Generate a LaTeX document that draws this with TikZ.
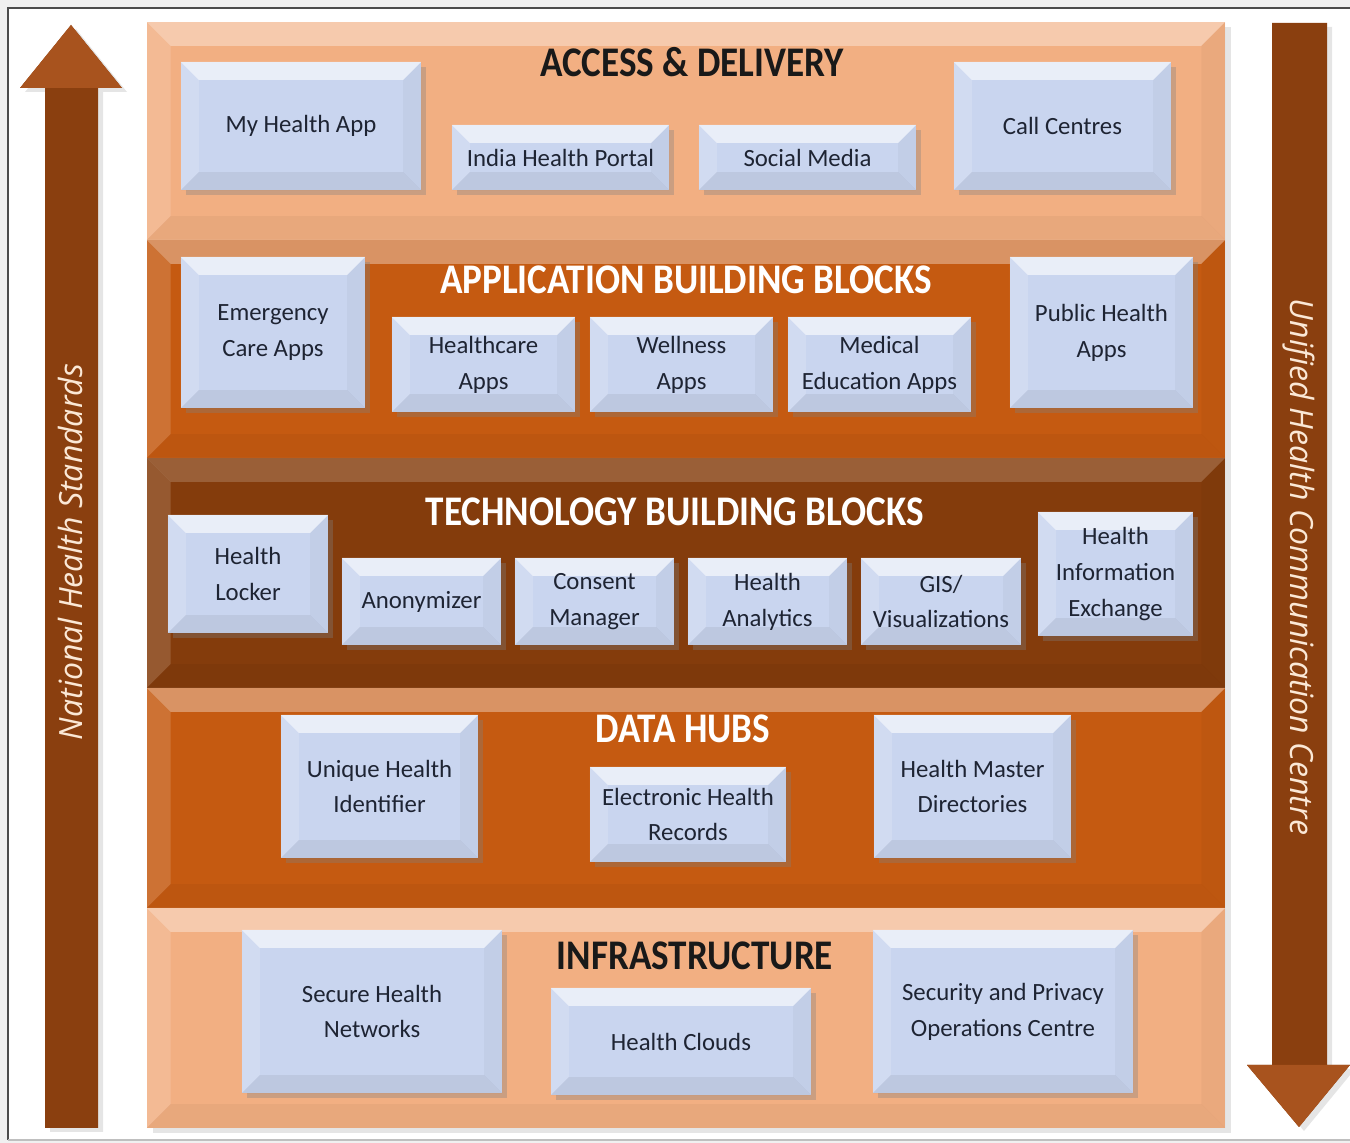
\documentclass[tikz,border=0pt]{standalone}
\usepackage{fontspec}
\setmainfont{Carlito}
\newfontfamily\titlefont{Carlito}[FakeStretch=0.88]
\newfontfamily\sidefont{Open Sans}
\usetikzlibrary{positioning,shadows}

\definecolor{peach}{HTML}{F2AF82}
\definecolor{rust}{HTML}{C55A11}
\definecolor{umber}{HTML}{843C0C}
\definecolor{boxblue}{HTML}{C9D5EF}
\definecolor{shaftbrown}{HTML}{8A3F0F}
\definecolor{headbrown}{HTML}{A8531E}
\definecolor{inkdark}{HTML}{1E2433}
\definecolor{sidetext}{HTML}{FBE8D6}

% bevel: width, top light, bottom dark
\newcommand{\bevelpaths}[3]{%
  \path (path picture bounding box.north west) coordinate (bNW)
        (path picture bounding box.north east) coordinate (bNE)
        (path picture bounding box.south west) coordinate (bSW)
        (path picture bounding box.south east) coordinate (bSE);
  \fill[white,opacity=#2] (bNW) -- (bNE) -- ([shift={(-#1,-#1)}]bNE) -- ([shift={(#1,-#1)}]bNW) -- cycle;
  \fill[white,opacity=.15] (bNW) -- ([shift={(#1,-#1)}]bNW) -- ([shift={(#1,#1)}]bSW) -- (bSW) -- cycle;
  \fill[black,opacity=.03] (bNE) -- ([shift={(-#1,-#1)}]bNE) -- ([shift={(-#1,#1)}]bSE) -- (bSE) -- cycle;
  \fill[black,opacity=#3] (bSW) -- ([shift={(#1,#1)}]bSW) -- ([shift={(-#1,#1)}]bSE) -- (bSE) -- cycle;
}

\tikzset{
  band/.style={inner sep=0, outer sep=0, minimum width=10.78cm,
    drop shadow={shadow xshift=.6mm, shadow yshift=-.5mm, opacity=.2},
    path picture={\bevelpaths{2.4mm}{.35}{.04}}},
  blk/.style={fill=boxblue, inner sep=0, outer sep=0, align=center, text=inkdark,
    font=\fontsize{7.05}{10.2}\selectfont,
    drop shadow={shadow xshift=.5mm, shadow yshift=-.5mm, opacity=.35},
    path picture={\bevelpaths{1.8mm}{.6}{.06}}},
  sz/.style 2 args={minimum width=#1cm, minimum height=#2cm},
  ttl/.style={font=\titlefont\bfseries\fontsize{12}{14}\selectfont},
  sidelbl/.style={text=sidetext, font=\sidefont\itshape\fontsize{9.1}{11}\selectfont}
}

\begin{document}
\begin{tikzpicture}[x=0.01cm, y=-0.01cm]
    \useasboundingbox (0,0) rectangle (1350,1143);
    \fill[gray!12] (0,0) rectangle (1350,1143);
    \fill[white] (8,8) rectangle (1350,1140);
    \draw[gray!60!black, line width=.6pt] (8,1140) -- (8,8) -- (1350,8);
    \draw[gray!50, line width=.6pt] (8,1140) -- (1350,1140);

    % side arrows
    \fill[shaftbrown, drop shadow={shadow xshift=.5mm, shadow yshift=-.4mm, opacity=.2}]
        (45,1128) -- (45,88) -- (20,88) -- (71,25) -- (122,88) -- (98,88) -- (98,1128) -- cycle;
    \fill[headbrown] (20,88) -- (71,25) -- (122,88) -- cycle;
    \fill[shaftbrown, drop shadow={shadow xshift=.5mm, shadow yshift=-.4mm, opacity=.2}]
        (1272,23) -- (1272,1065) -- (1247,1065) -- (1299,1127) -- (1350,1065) -- (1327,1065) -- (1327,23) -- cycle;
    \fill[headbrown] (1247,1065) -- (1299,1127) -- (1350,1065) -- cycle;
    \node[sidelbl, rotate=90] at (71, 552)(nhs) {National Health Standards};
    \node[sidelbl, rotate=-90] at (1299, 567)(uhcc) {Unified Health Communication Centre};

    % layers
    \node[band, fill=peach, minimum height=2.18cm] at (686, 131)(access) {};
    \node[band, fill=rust, minimum height=2.18cm] at (686, 349)(apps) {};
    \node[band, fill=umber, minimum height=2.30cm, path picture={\bevelpaths{2.4mm}{.18}{.04}}] at (686, 573)(tech) {};
    \node[band, fill=rust, minimum height=2.20cm] at (686, 798)(hubs) {};
    \node[band, fill=peach, minimum height=2.20cm] at (686, 1018)(infra) {};

    \node[ttl, text=black!90] at (692, 62)(t1) {ACCESS \& DELIVERY};
    \node[ttl, text=white] at (686, 280)(t2) {APPLICATION BUILDING BLOCKS};
    \node[ttl, text=white] at (675, 512)(t3) {TECHNOLOGY BUILDING BLOCKS};
    \node[ttl, text=white] at (683, 729)(t4) {DATA HUBS};
    \node[ttl, text=black!90] at (695, 956)(t5) {INFRASTRUCTURE};

    \node[blk, sz={2.40}{1.28}] at (301, 126)(myapp) {My Health App};
    \node[blk, sz={2.17}{0.65}] at (560.5, 157.5)(portal) {India Health Portal};
    \node[blk, sz={2.17}{0.65}] at (807.5, 157.5)(social) {Social Media};
    \node[blk, sz={2.17}{1.28}] at (1062.5, 126)(calls) {Call Centres};

    \node[blk, sz={1.84}{1.51}] at (273, 332.5)(emerg) {Emergency\\Care Apps};
    \node[blk, sz={1.83}{0.95}] at (483.5, 364.5)(hcare) {Healthcare\\Apps};
    \node[blk, sz={1.83}{0.95}] at (681.5, 364.5)(well) {Wellness\\Apps};
    \node[blk, sz={1.83}{0.95}] at (879.5, 364.5)(meded) {Medical\\Education Apps};
    \node[blk, sz={1.83}{1.51}] at (1101.5, 332.5)(pubh) {Public Health\\Apps};

    \node[blk, sz={1.60}{1.18}] at (248, 574)(locker) {Health\\Locker};
    \node[blk, sz={1.59}{0.87}] at (421.5, 601.5)(anon) {Anonymizer};
    \node[blk, sz={1.59}{0.87}] at (594.5, 601.5)(consent) {Consent\\Manager};
    \node[blk, sz={1.59}{0.87}] at (767.5, 601.5)(analytics) {Health\\Analytics};
    \node[blk, sz={1.60}{0.87}] at (941, 601.5)(gis) {GIS/\\Visualizations};
    \node[blk, sz={1.55}{1.24}] at (1115.5, 574)(hie) {Health\\Information\\Exchange};

    \node[blk, sz={1.97}{1.43}] at (379.5, 786.5)(uhid) {Unique Health\\Identifier};
    \node[blk, sz={1.96}{0.95}] at (688, 814.5)(ehr) {Electronic Health\\Records};
    \node[blk, sz={1.97}{1.43}] at (972.5, 786.5)(hmd) {Health Master\\Directories};

    \node[blk, sz={2.60}{1.63}] at (372, 1011.5)(shn) {Secure Health\\Networks};
    \node[blk, sz={2.60}{1.07}] at (681, 1041.5)(clouds) {Health Clouds};
    \node[blk, sz={2.60}{1.63}] at (1003, 1011.5)(spoc) {Security and Privacy\\Operations Centre};

\end{tikzpicture}
\end{document}
